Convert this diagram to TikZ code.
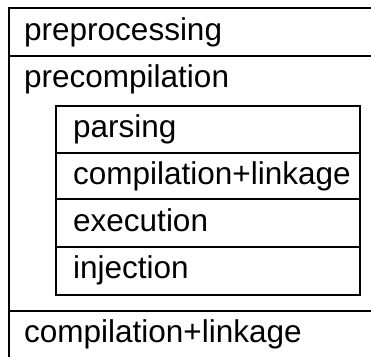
\documentclass[tikz,border=0pt]{standalone}
\usepackage{fontspec}
\setmainfont{Liberation Sans}
\begin{document}
\begin{tikzpicture}[x=1pt,y=-1pt,
  frame/.style={line width=2pt,draw=black},
  lbl/.style={anchor=base west,inner sep=0pt,font=\fontsize{31.5}{36}\selectfont}]
\useasboundingbox (0,0) rectangle (371,356);
% outer frame
\draw[frame] (371,8) -- (9,8) -- (9,357);
\draw[frame] (9,56) -- (371,56);
\draw[frame] (9,311) -- (371,311);
% inner box
\draw[frame] (56,106) rectangle (360,295);
\draw[frame] (56,153) -- (360,153);
\draw[frame] (56,199) -- (360,199);
\draw[frame] (56,247) -- (360,247);
% labels
\node[lbl] (pre) at (24,40) {preprocessing};
\node[lbl] (prec) at (24,87) {precompilation};
\node[lbl] (pars) at (73,137) {parsing};
\node[lbl] (cl1) at (73,184) {compilation+linkage};
\node[lbl] (exe) at (73,231) {execution};
\node[lbl] (inj) at (73,278) {injection};
\node[lbl] (cl2) at (24,342) {compilation+linkage};
\end{tikzpicture}
\end{document}
